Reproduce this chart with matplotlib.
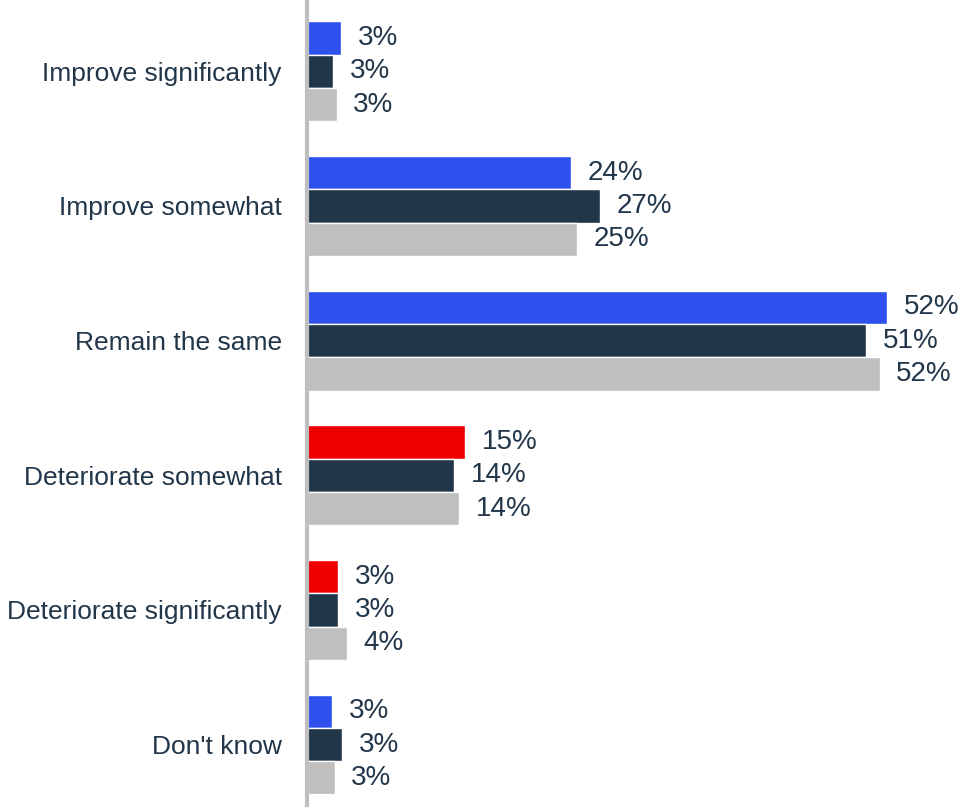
import numpy as np
import matplotlib
matplotlib.use("Agg")
import matplotlib.pyplot as plt

plt.rcParams['font.family'] = ['Liberation Sans', 'DejaVu Sans']

# data
categories = ["Improve significantly", "Improve somewhat", "Remain the same",
              "Deteriorate somewhat", "Deteriorate significantly", "Don't know"]
wave1 = [3.1, 23.9, 52.5, 14.3, 2.8, 2.3]
wave2 = [2.4, 26.5, 50.6, 13.3, 2.8, 3.2]
wave3 = [2.7, 24.4, 51.8, 13.8, 3.6, 2.5]
labels1 = ["3%", "24%", "52%", "15%", "3%", "3%"]
labels2 = ["3%", "27%", "51%", "14%", "3%", "3%"]
labels3 = ["3%", "25%", "52%", "14%", "4%", "3%"]

BLUE = "#2E50EC"
RED = "#EE0000"
NAVY = "#22364A"
GREY = "#BFBFBF"
TEXT = "#22364A"

first_colors = [BLUE, BLUE, BLUE, RED, RED, BLUE]

fig = plt.figure(figsize=(9.65, 8.1), dpi=100)
ax = fig.add_axes([0.318, 0.006, 0.676, 0.994])

y = np.arange(len(categories))
step = 0.247
series = [(wave1, labels1, first_colors), (wave2, labels2, NAVY), (wave3, labels3, GREY)]
for k, (vals, labs, col) in enumerate(series):
    pos = y + (k - 1) * step
    ax.barh(pos, vals, height=step, color=col, edgecolor="white", linewidth=1.0)
    for p, v, t in zip(pos, vals, labs):
        ax.annotate(t, (v, p), xytext=(12, 0), textcoords="offset points",
                    va="center", ha="left", fontsize=20, color=TEXT,
                    annotation_clip=False)

ax.set_xlim(0, 59)
ax.set_ylim(5.45, -0.53)
ax.set_yticks(y)
ax.set_yticklabels(categories, fontsize=19, color=TEXT)
ax.tick_params(axis="y", length=0, pad=18)
ax.set_xticks([])
for s in ["top", "right", "bottom"]:
    ax.spines[s].set_visible(False)
ax.spines["left"].set_color(GREY)
ax.spines["left"].set_linewidth(3)

fig.savefig("out.png", dpi=100)
